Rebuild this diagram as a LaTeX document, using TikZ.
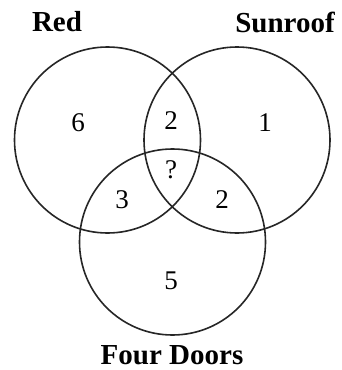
\documentclass[tikz,border=0pt]{standalone}
\usepackage{fontspec}
\setmainfont{Liberation Serif}
\usetikzlibrary{positioning}

\begin{document}
\begin{tikzpicture}[x=1pt, y=-1pt,
    set/.style={draw=black!85, circle, line width=1.6pt, minimum size=186pt, inner sep=0pt},
    ttl/.style={font=\fontsize{29}{31}\selectfont\bfseries, inner sep=0pt},
    num/.style={font=\fontsize{27}{29}\selectfont, inner sep=0pt}
  ]
    \useasboundingbox[fill=white] (0,0) rectangle (342,370);

    %% -- sets --
    \node[set] (red)  at (107.5,140) {};
    \node[set] (sun)  at (237,140)   {};
    \node[set] (four) at (172.5,242) {};

    %% -- titles --
    \node[ttl] (tred)  at (57,22)   {Red};
    \node[ttl] (tsun)  at (285,22)  {Sunroof};
    \node[ttl] (tfour) at (172,355) {Four Doors};

    %% -- counts --
    \node[num] (nr)   at (78,123)  {6};
    \node[num] (nrs)  at (171,121) {2};
    \node[num] (ns)   at (265,123) {1};
    \node[num] (nall) at (171,170) {?};
    \node[num] (nrf)  at (122,200) {3};
    \node[num] (nsf)  at (222,200) {2};
    \node[num] (nf)   at (171,281) {5};
  \end{tikzpicture}
\end{document}
